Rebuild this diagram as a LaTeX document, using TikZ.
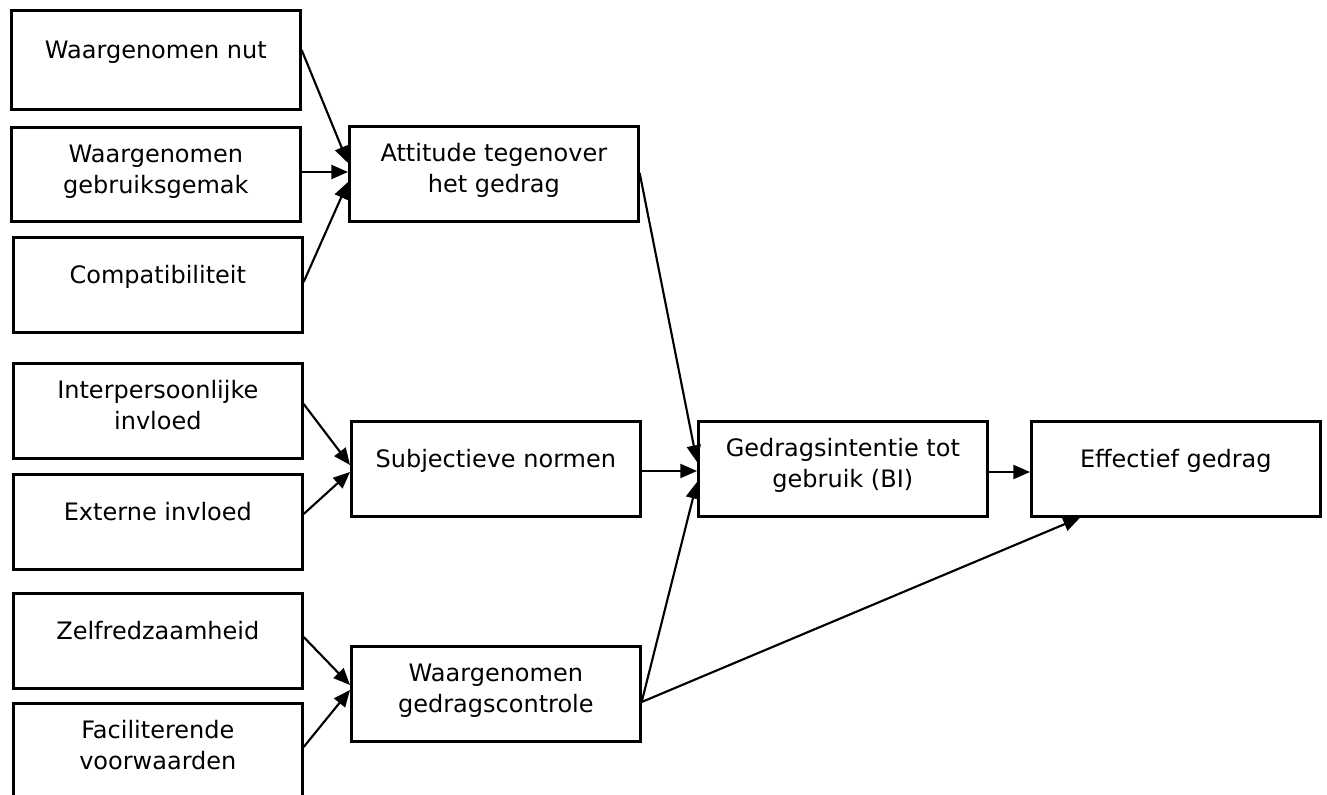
\documentclass[tikz,border=0pt]{standalone}
\usepackage{fontspec}
\setmainfont{DejaVu Sans}
\usetikzlibrary{arrows.meta,calc}

% box content: #1 box height, #2 first baseline below the top, #3 text
\newcommand\cell[3]{\parbox[c][#1][t]{216.75pt}{\centering\rule{0pt}{#2}#3}}

\begin{document}
\begin{tikzpicture}[x=0.75pt,y=-0.75pt,
  box/.style={draw, line width=2pt, inner sep=0pt, anchor=north west,
    font=\fontsize{18}{23.6}\selectfont},
  link/.style={line width=1.6pt, -{Triangle[length=12.5pt,width=10.5pt]}}]
\clip (0,0) rectangle (1327,795);
\fill[white] (0,0) rectangle (1327,795);

% input factors
\node[box] (nut)    at (10,9)   {\cell{74.25pt}{36pt}{Waargenomen nut}};
\node[box] (gebr)   at (10,126) {\cell{70.5pt}{26.25pt}{Waargenomen\\gebruiksgemak}};
\node[box] (compat) at (12,236) {\cell{71.25pt}{34.5pt}{Compatibiliteit}};
\node[box] (interp) at (12,362) {\cell{71.25pt}{26.25pt}{Interpersoonlijke\\invloed}};
\node[box] (ext)    at (12,473) {\cell{71.25pt}{34.5pt}{Externe invloed}};
\node[box] (zelf)   at (12,592) {\cell{71.25pt}{34.5pt}{Zelfredzaamheid}};
\node[box] (facil)  at (12,702) {\cell{81pt}{26.25pt}{Faciliterende\\voorwaarden}};

% determinants
\node[box] (att)  at (348,125) {\cell{71.25pt}{26.25pt}{Attitude tegenover\\het gedrag}};
\node[box] (subj) at (350,420) {\cell{71.25pt}{34.5pt}{Subjectieve normen}};
\node[box] (wgc)  at (350,645) {\cell{71.25pt}{26.25pt}{Waargenomen\\gedragscontrole}};

% intention and behaviour
\node[box] (bi)  at (697,420)  {\cell{71.25pt}{26.25pt}{Gedragsintentie tot\\gebruik (BI)}};
\node[box] (eff) at (1030,420) {\cell{71.25pt}{34.5pt}{Effectief gedrag}};

% connectors
\draw[link] ($(nut.north east)+(0,41)$)    -- ($(att.north west)+(0,38)$);
\draw[link] ($(gebr.north east)+(0,46)$)   -- ($(att.north west)+(0,47)$);
\draw[link] ($(compat.north east)+(0,46)$) -- ($(att.north west)+(0,57)$);

\draw[link] ($(interp.north east)+(0,42)$) -- ($(subj.north west)+(0,45)$);
\draw[link] ($(ext.north east)+(0,41)$)    -- ($(subj.north west)+(0,52)$);

\draw[link] ($(zelf.north east)+(0,45)$)   -- ($(wgc.north west)+(0,40)$);
\draw[link] ($(facil.north east)+(0,45)$)  -- ($(wgc.north west)+(0,45)$);

\draw[link] ($(att.north east)+(0,48)$)  -- ($(bi.north west)+(0,42)$);
\draw[link] ($(subj.north east)+(0,51)$) -- ($(bi.north west)+(0,51)$);
\draw[link] ($(wgc.north east)+(0,57)$)  -- ($(bi.north west)+(0,62)$);

\draw[link] ($(bi.north east)+(0,52)$)  -- ($(eff.north west)+(0,52)$);
\draw[link] ($(wgc.north east)+(0,57)$) -- ($(eff.south west)+(50,0)$);
\end{tikzpicture}
\end{document}
